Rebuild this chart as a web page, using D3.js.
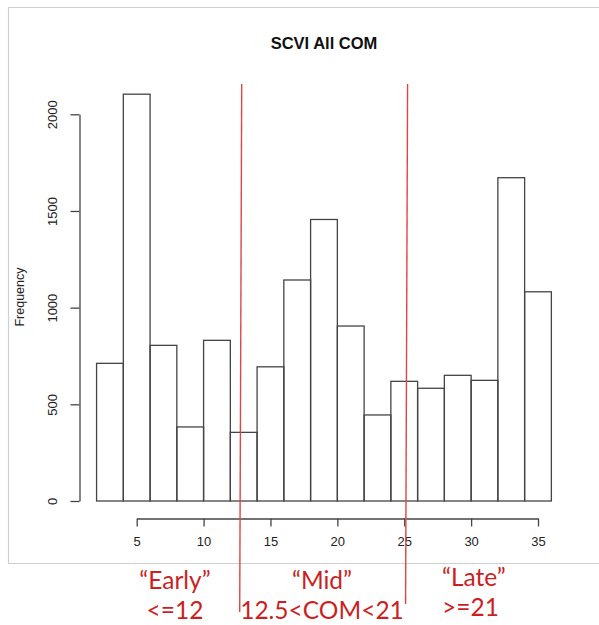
<!DOCTYPE html>
<html>
<head>
<meta charset="utf-8">
<script src="https://cdn.jsdelivr.net/npm/d3@7"></script>
<style>
  body { margin: 0; background: #fff; }
  .axis text { font-family: "Liberation Sans", Arial, sans-serif; font-size: 13px; fill: #222; }
  .axis path, .axis line { stroke: #444; stroke-width: 1.3; }
  .note { font-family: Lato, "Open Sans", sans-serif; font-size: 24.5px; fill: #cc1f1f; }
</style>
</head>
<body>
<div id="chart"></div>
<script>
// histogram bins (COM), width 2
var binStarts = [2, 4, 6, 8, 10, 12, 14, 16, 18, 20, 22, 24, 26, 28, 30, 32, 34];
var counts = [712, 2104, 805, 383, 831, 355, 694, 1143, 1456, 905, 445, 619, 583, 650, 624, 1672, 1082];
var xTicks = [5, 10, 15, 20, 25, 30, 35];
var yTicks = [0, 500, 1000, 1500, 2000];
var cutoffs = [12.85, 25.25];
var groupLabels = [["\u201CEarly\u201D", "<=12"], ["\u201CMid\u201D", "12.5<COM<21"], ["\u201CLate\u201D", ">=21"]];

var width = 599, height = 625;

var svg = d3.select("#chart").append("svg")
    .attr("width", width)
    .attr("height", height);

svg.append("rect").attr("width", width).attr("height", height).attr("fill", "#fff");

// panel frame (screenshot border)
svg.append("path")
    .attr("d", "M" + (width + 5) + ",7.5H8.5V563.5H" + (width + 5))
    .attr("fill", "none")
    .attr("stroke", "#cfcfcf")
    .attr("stroke-width", 1.2);

var x = d3.scaleLinear()
    .domain([5, 35])
    .range([136.7, 538]);

var y = d3.scaleLinear()
    .domain([0, 2000])
    .range([501, 114.3]);

// bars
svg.append("g")
  .selectAll("rect")
  .data(binStarts)
  .enter().append("rect")
    .attr("x", function(d) { return x(d); })
    .attr("y", function(d, i) { return y(counts[i]); })
    .attr("width", function(d) { return x(d + 2) - x(d); })
    .attr("height", function(d, i) { return y(0) - y(counts[i]); })
    .attr("fill", "none")
    .attr("stroke", "#444")
    .attr("stroke-width", 1.3);

// x axis
svg.append("g")
    .attr("class", "axis")
    .attr("transform", "translate(0,518.5)")
    .call(d3.axisBottom(x).tickValues(xTicks).tickSize(8).tickSizeOuter(0).tickPadding(10));

// y axis, R-style rotated labels
var yAxis = svg.append("g")
    .attr("class", "axis")
    .attr("transform", "translate(79.5,0)")
    .call(d3.axisLeft(y).tickValues(yTicks).tickFormat(d3.format("d")).tickSize(9).tickSizeOuter(0));

yAxis.selectAll(".tick text")
    .attr("transform", "rotate(-90)")
    .attr("x", 0)
    .attr("y", -27)
    .attr("dy", "0.35em")
    .attr("text-anchor", "middle");

svg.append("text")
    .attr("transform", "translate(20," + 297 + ") rotate(-90)")
    .attr("text-anchor", "middle")
    .attr("dy", "0.35em")
    .style("font-family", "'Liberation Sans', Arial, sans-serif")
    .style("font-size", "12.5px")
    .attr("fill", "#222")
    .text("Frequency");

svg.append("text")
    .attr("x", 324)
    .attr("y", 49)
    .attr("text-anchor", "middle")
    .style("font-family", "'Liberation Sans', Arial, sans-serif")
    .style("font-size", "16.5px")
    .style("font-weight", "bold")
    .attr("fill", "#111")
    .text("SCVI All COM");

// red cutoff lines
var lineBottoms = [612, 604];
svg.append("g")
  .selectAll("line")
  .data(cutoffs)
  .enter().append("line")
    .attr("x1", function(d) { return x(d); })
    .attr("x2", function(d) { return x(d) - 2; })
    .attr("y1", 84)
    .attr("y2", function(d, i) { return lineBottoms[i]; })
    .attr("stroke", "#e04545")
    .attr("stroke-width", 1.4);

// group notes
var notePos = [
  {x: 175, anchor: "middle"},
  {x: 322, anchor: "middle"},
  {x: 442, anchor: "start"}
];
var noteBase = [[589, 619], [589, 619], [586, 616]];

groupLabels.forEach(function(lines, i) {
  lines.forEach(function(t, j) {
    svg.append("text")
        .attr("class", "note")
        .attr("x", notePos[i].x)
        .attr("y", noteBase[i][j])
        .attr("text-anchor", notePos[i].anchor)
        .text(t);
  });
});
</script>
</body>
</html>
